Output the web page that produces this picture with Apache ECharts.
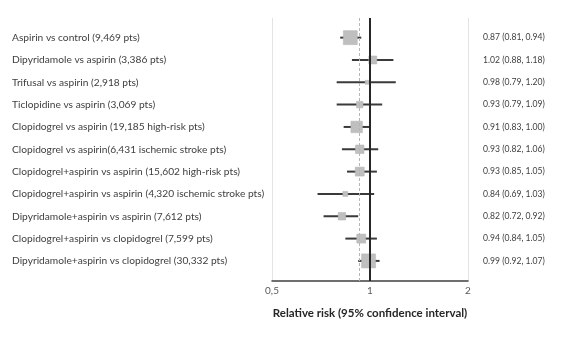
<!DOCTYPE html>
<html><head><meta charset="utf-8">
<script src="https://cdn.jsdelivr.net/npm/echarts@6/dist/echarts.min.js"></script>
<style>html,body{margin:0;padding:0;background:#fff}#c{width:566px;height:339px}</style>
</head><body><div id="c"></div>
<script>
const labels = [
  'Aspirin vs control (9,469 pts)',
  'Dipyridamole vs aspirin (3,386 pts)',
  'Trifusal vs aspirin (2,918 pts)',
  'Ticlopidine vs aspirin (3,069 pts)',
  'Clopidogrel vs aspirin (19,185 high-risk pts)',
  'Clopidogrel vs aspirin(6,431 ischemic stroke pts)',
  'Clopidogrel+aspirin vs aspirin (15,602 high-risk pts)',
  'Clopidogrel+aspirin vs aspirin (4,320 ischemic stroke pts)',
  'Dipyridamole+aspirin vs aspirin (7,612 pts)',
  'Clopidogrel+aspirin vs clopidogrel (7,599 pts)',
  'Dipyridamole+aspirin vs clopidogrel (30,332 pts)'
];
const estimates = [0.87, 1.02, 0.98, 0.93, 0.91, 0.93, 0.93, 0.84, 0.82, 0.94, 0.99];
const lower     = [0.81, 0.88, 0.79, 0.79, 0.83, 0.82, 0.85, 0.69, 0.72, 0.84, 0.92];
const upper     = [0.94, 1.18, 1.20, 1.09, 1.00, 1.06, 1.05, 1.03, 0.92, 1.05, 1.07];
const weights   = [14, 8, 4, 6.5, 11.5, 8.5, 9, 5, 7.5, 9, 14];
const pooled = 0.93;
const xMin = 0.5, xMax = 2;
const xTitle = 'Relative risk (95% confidence interval)';

const FONT = 'Lato, "Open Sans", sans-serif';
const data = labels.map((l, i) => [estimates[i], i, lower[i], upper[i], weights[i]]);

const chart = echarts.init(document.getElementById('c'), null, {renderer: 'canvas'});
chart.setOption({
  animation: false,
  grid: {left: 272, right: 98, top: 18, bottom: 58},
  xAxis: {
    type: 'log', logBase: 2, min: xMin, max: xMax,
    axisLine: {show: true, onZero: false, lineStyle: {color: '#404040', width: 1.5}},
    axisTick: {show: false},
    axisLabel: {color: '#595959', fontSize: 10, fontFamily: FONT, margin: 5,
      formatter: v => String(+v.toFixed(2)).replace('.', ',')},
    splitLine: {show: true, lineStyle: {color: '#e3e3e3', width: 1}},
    name: xTitle, nameLocation: 'middle', nameGap: 26,
    nameTextStyle: {fontFamily: FONT, fontSize: 11.5, fontWeight: 'bold', color: '#262626'}
  },
  yAxis: {type: 'value', min: -0.88, max: 10.9, inverse: true, show: false},
  series: [{
    type: 'custom',
    data: data,
    encode: {x: [0, 2, 3], y: 1},
    clip: false,
    renderItem: function (params, api) {
      const i = api.value(1);
      const c = api.coord([api.value(0), i]);
      const l = api.coord([api.value(2), i]);
      const h = api.coord([api.value(3), i]);
      const s = api.value(4);
      const est = estimates[i], lo = lower[i], hi = upper[i];
      return {
        type: 'group',
        children: [
          {type: 'line', shape: {x1: l[0], y1: c[1], x2: h[0], y2: c[1]},
           style: {stroke: '#3a3a3a', lineWidth: 2}},
          {type: 'rect', shape: {x: c[0] - s / 2, y: c[1] - s / 2, width: s, height: s},
           style: {fill: '#bfbfbf', stroke: '#b3b3b3', lineWidth: 0.5}},
          {type: 'text', x: 12, y: c[1],
           style: {text: labels[i], fill: '#404040', font: '10.2px ' + FONT,
                   align: 'left', verticalAlign: 'middle'}},
          {type: 'text', x: 483, y: c[1],
           style: {text: est.toFixed(2) + ' (' + lo.toFixed(2) + ', ' + hi.toFixed(2) + ')',
                   fill: '#404040', font: '8.6px ' + FONT, align: 'left', verticalAlign: 'middle'}}
        ]
      };
    },
    z: 3
  }, {
    type: 'line', data: [], silent: true, z: 2,
    markLine: {
      silent: true, symbol: 'none', label: {show: false},
      data: [
        {xAxis: pooled, lineStyle: {color: '#b5b5b5', type: [3, 2], width: 1}},
        {xAxis: 1, lineStyle: {color: '#262626', type: 'solid', width: 2}}
      ]
    }
  }]
});
</script></body></html>
